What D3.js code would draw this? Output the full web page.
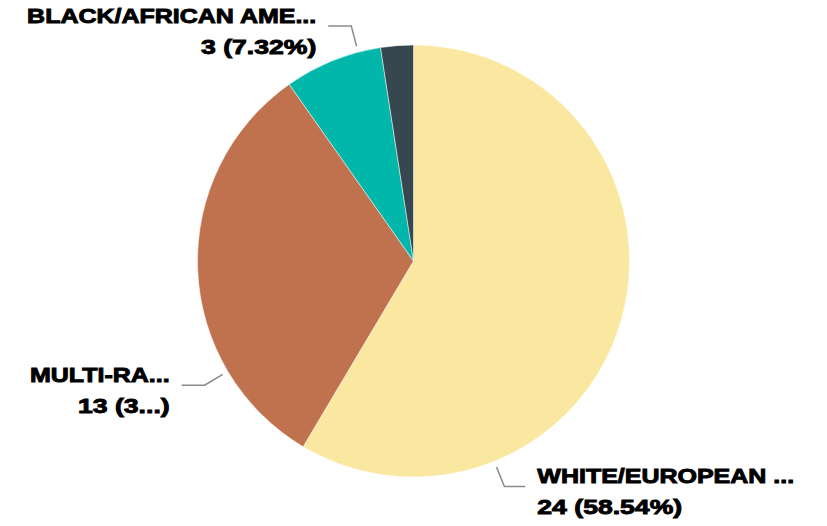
<!DOCTYPE html>
<meta charset="utf-8">
<head>
<script src="https://d3js.org/d3.v7.min.js"></script>
<style>
  body { margin: 0; background: #fff; }
</style>
</head>
<body>
<div id="my_dataviz"></div>
<script>

// data
var categories = ["WHITE/EUROPEAN AMERICAN", "MULTI-RACIAL", "BLACK/AFRICAN AMERICAN", "OTHER"];
var counts = [24, 13, 3, 1];
var colors = ["#fae7a0", "#c0714e", "#00b7aa", "#37474f"];
// labels as shown (truncated), null = no label
var nameLabels = ["WHITE/EUROPEAN ...", "MULTI-RA...", "BLACK/AFRICAN AME...", null];
var valueLabels = [null, "13 (3...)", null, null]; // null -> full "n (p%)"
// where along each slice the leader line leaves (0..1)
var labelFrac = [0.75, 0.25, 0.77, null];

var width = 827, height = 526;
var cx = 413.5, cy = 261, radius = 216;

var svg = d3.select("#my_dataviz")
  .append("svg")
    .attr("width", width)
    .attr("height", height)
  .append("g")
    .attr("transform", "translate(" + cx + "," + cy + ")");

var total = d3.sum(counts);
var data = categories.map(function(c, i){ return {name: c, value: counts[i], i: i}; });

var pie = d3.pie().sort(null).value(function(d){ return d.value; });
var arcs = pie(data);

var arc = d3.arc().innerRadius(0).outerRadius(radius);

svg.selectAll("path.slice")
  .data(arcs)
  .enter()
  .append("path")
    .attr("class", "slice")
    .attr("d", arc)
    .style("fill", function(d){ return colors[d.data.i]; })
    .style("stroke", "#fff")
    .style("stroke-width", 0.5);

function polar(r, a) { return [r * Math.sin(a), -r * Math.cos(a)]; }

var labeled = arcs.filter(function(d){ return nameLabels[d.data.i] != null; });

labeled.forEach(function(d){
  var i = d.data.i;
  var a = d.startAngle + (d.endAngle - d.startAngle) * labelFrac[i];
  var p0 = polar(radius + 6, a);
  var p1 = polar(radius + 27, a);
  var right = Math.sin(a) > 0;
  var p2 = [p1[0] + (right ? 21 : -23), p1[1]];

  svg.append("polyline")
    .attr("points", [p0, p1, p2].map(function(p){ return p.join(","); }).join(" "))
    .style("fill", "none")
    .style("stroke", "#8a8a8a")
    .style("stroke-width", 1.5);

  var tx = p2[0] + (right ? 12 : -12);
  var vl = valueLabels[i] || (d.data.value + " (" + (d.data.value / total * 100).toFixed(2) + "%)");
  [nameLabels[i], vl].forEach(function(t, k){
    svg.append("text")
      .attr("transform", "translate(" + tx + "," + (p1[1] - 3 + k * 31) + ") scale(" + (k ? 1.33 : 1.25) + ",1)")
      .attr("text-anchor", right ? "start" : "end")
      .style("font-family", "'Liberation Sans', Arial, sans-serif")
      .style("font-weight", "bold")
      .style("font-size", "20px")
      .style("fill", "#000")
      .style("stroke", "#000")
      .style("stroke-width", 0.9)
      .text(t);
  });
});

</script>
</body>
